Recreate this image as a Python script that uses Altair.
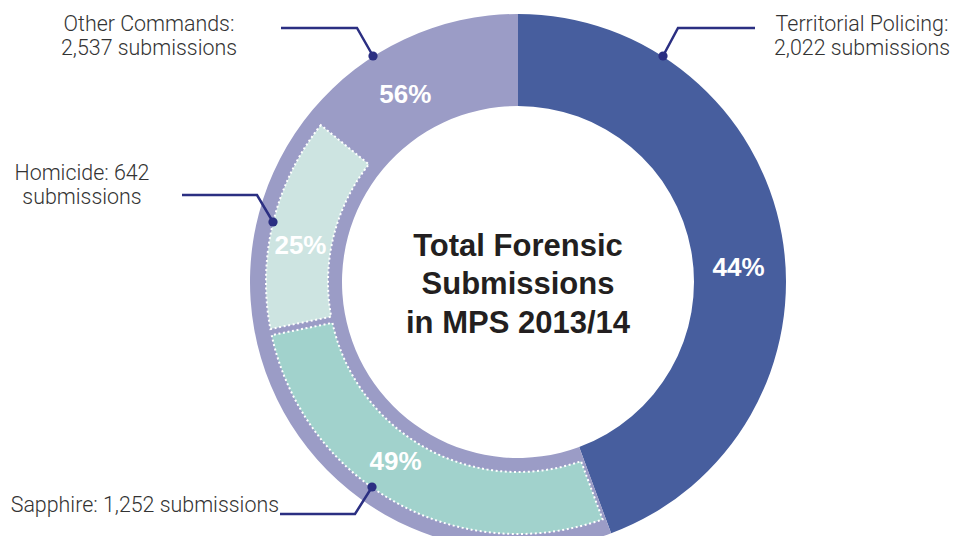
import altair as alt
import pandas as pd

# ---------------- data ----------------
main_segments = ["Territorial Policing", "Other Commands"]
main_submissions = [2022, 2537]

sub_segments = ["Sapphire", "Homicide"]
sub_submissions = [1252, 642]

pct_labels = {"Territorial Policing": "44%", "Other Commands": "56%",
              "Sapphire": "49%", "Homicide": "25%"}

callout_texts = {
    "Territorial Policing": "Territorial Policing:\n2,022 submissions",
    "Other Commands": "Other Commands:\n2,537 submissions",
    "Homicide": "Homicide: 642\nsubmissions",
    "Sapphire": "Sapphire: 1,252 submissions",
}
center_title = "Total Forensic\nSubmissions\nin MPS 2013/14"

# ---------------- layout / style ----------------
W, H = 942, 528
CX, CY = 510, 274
R_OUT, R_IN = 268, 176
SUB_OUT, SUB_IN = 252, 190
LABEL_R = 221
TITLE_LH = 38.5

BLUE = "#475e9e"
LAVENDER = "#9b9cc6"
HOMICIDE = "#cde4e1"
SAPPHIRE = "#a1d2cc"
NAVY = "#2b2f82"
TEXT = "#333333"

LABEL_NUDGE = {"44%": (3, 25), "56%": (-18, 13), "49%": (-15, -13), "25%": (-3, 17)}

# leader-line geometry (annotation layout, pixel space)
CALLOUTS = [
    # name, text anchor (x, y, align), polyline points (end -> elbow -> dot)
    ("Territorial Policing", (854, 23, "center"), [(747, 20), (670, 20), (655, 48)]),
    ("Other Commands", (141, 23, "center"), [(273, 20), (349, 20), (365, 48)]),
    ("Homicide", (74, 172, "center"), [(174, 187), (249, 187), (265, 214)]),
    ("Sapphire", (271, 504, "right"), [(272, 506), (347, 506), (364, 479)]),
]

# ---------------- tables ----------------
main_df = pd.DataFrame({
    "segment": main_segments,
    "value": main_submissions,
    "ord": list(range(len(main_segments))),
})

other_rest = main_submissions[1] - sum(sub_submissions)
sub_df = pd.DataFrame({
    "part": [main_segments[0]] + sub_segments + [main_segments[1]],
    "value": [main_submissions[0]] + sub_submissions + [other_rest],
    "visible": [False, True, True, False],
    "ord": [0, 1, 2, 3],
})
sub_df["label"] = sub_df["part"].map(pct_labels)

line_rows, dot_rows, text_rows = [], [], []
for name, (tx, ty, al), pts in CALLOUTS:
    for i, (px, py) in enumerate(pts):
        line_rows.append({"callout": name, "i": i, "x": px, "y": py})
    dot_rows.append({"callout": name, "x": pts[-1][0], "y": pts[-1][1]})
    text_rows.append({"callout": name, "x": tx, "y": ty, "align": al,
                      "text": callout_texts[name]})
lines_df = pd.DataFrame(line_rows)
dots_df = pd.DataFrame(dot_rows)
texts_df = pd.DataFrame(text_rows)

theta = alt.Theta("value:Q", stack=True)
order = alt.Order("ord:Q")
cx, cy = alt.value(CX), alt.value(CY)

outer = alt.Chart(main_df).mark_arc(outerRadius=R_OUT, innerRadius=R_IN).encode(
    theta=theta, order=order, x=cx, y=cy,
    color=alt.Color("segment:N", legend=None,
                    scale=alt.Scale(domain=main_segments, range=[BLUE, LAVENDER])),
)

inner = alt.Chart(sub_df).mark_arc(
    outerRadius=SUB_OUT, innerRadius=SUB_IN, padAngle=0.02,
    stroke="white", strokeWidth=2, strokeDash=[2, 2.6],
).encode(
    theta=theta, order=order, x=cx, y=cy,
    fill=alt.Fill("part:N", legend=None,
                  scale=alt.Scale(domain=sub_df["part"].tolist(),
                                  range=["transparent", SAPPHIRE, HOMICIDE, "transparent"])),
    opacity=alt.condition("datum.visible", alt.value(1), alt.value(0)),
)

label_layers = []
for lab, (ddx, ddy) in LABEL_NUDGE.items():
    label_layers.append(
        alt.Chart(sub_df).mark_text(
            radius=LABEL_R, font="Liberation Sans", fontWeight="bold", fontSize=26,
            color="white", dx=ddx, dy=ddy, align="center", baseline="middle",
        ).encode(
            theta=theta, order=order, x=cx, y=cy,
            text="label:N",
            opacity=alt.condition(f"datum.label == '{lab}'", alt.value(1), alt.value(0)),
        )
    )

title_df = pd.DataFrame({"text": [center_title]})
center = alt.Chart(title_df).mark_text(
    font="Liberation Sans", fontWeight="bold", fontSize=31, lineHeight=TITLE_LH,
    lineBreak="\n", color="#231f20", align="center", baseline="middle",
).encode(x=cx, y=alt.value(CY - TITLE_LH + 3), text="text:N")

px_x = alt.X("x:Q", scale=None, axis=None)
px_y = alt.Y("y:Q", scale=None, axis=None)

leaders = alt.Chart(lines_df).mark_line(color=NAVY, strokeWidth=2.5).encode(
    x=px_x, y=px_y, detail="callout:N", order="i:Q")
dots = alt.Chart(dots_df).mark_circle(color=NAVY, opacity=1, size=85).encode(x=px_x, y=px_y)

text_layers = []
for al in ["center", "right"]:
    text_layers.append(
        alt.Chart(texts_df[texts_df["align"] == al]).mark_text(
            font="Roboto", fontWeight=300, fontSize=21.4, lineHeight=24, lineBreak="\n",
            color=TEXT, align=al, baseline="alphabetic",
        ).encode(x=px_x, y=px_y, text="text:N")
    )

chart = alt.layer(outer, inner, *label_layers, center, leaders, dots, *text_layers).properties(
    width=W, height=H, padding=0,
    autosize=alt.AutoSizeParams(type="none"),
).resolve_scale(color="independent", fill="independent").configure_view(stroke=None)

chart.save("out.html", embed_options={"renderer": "svg", "actions": False})
